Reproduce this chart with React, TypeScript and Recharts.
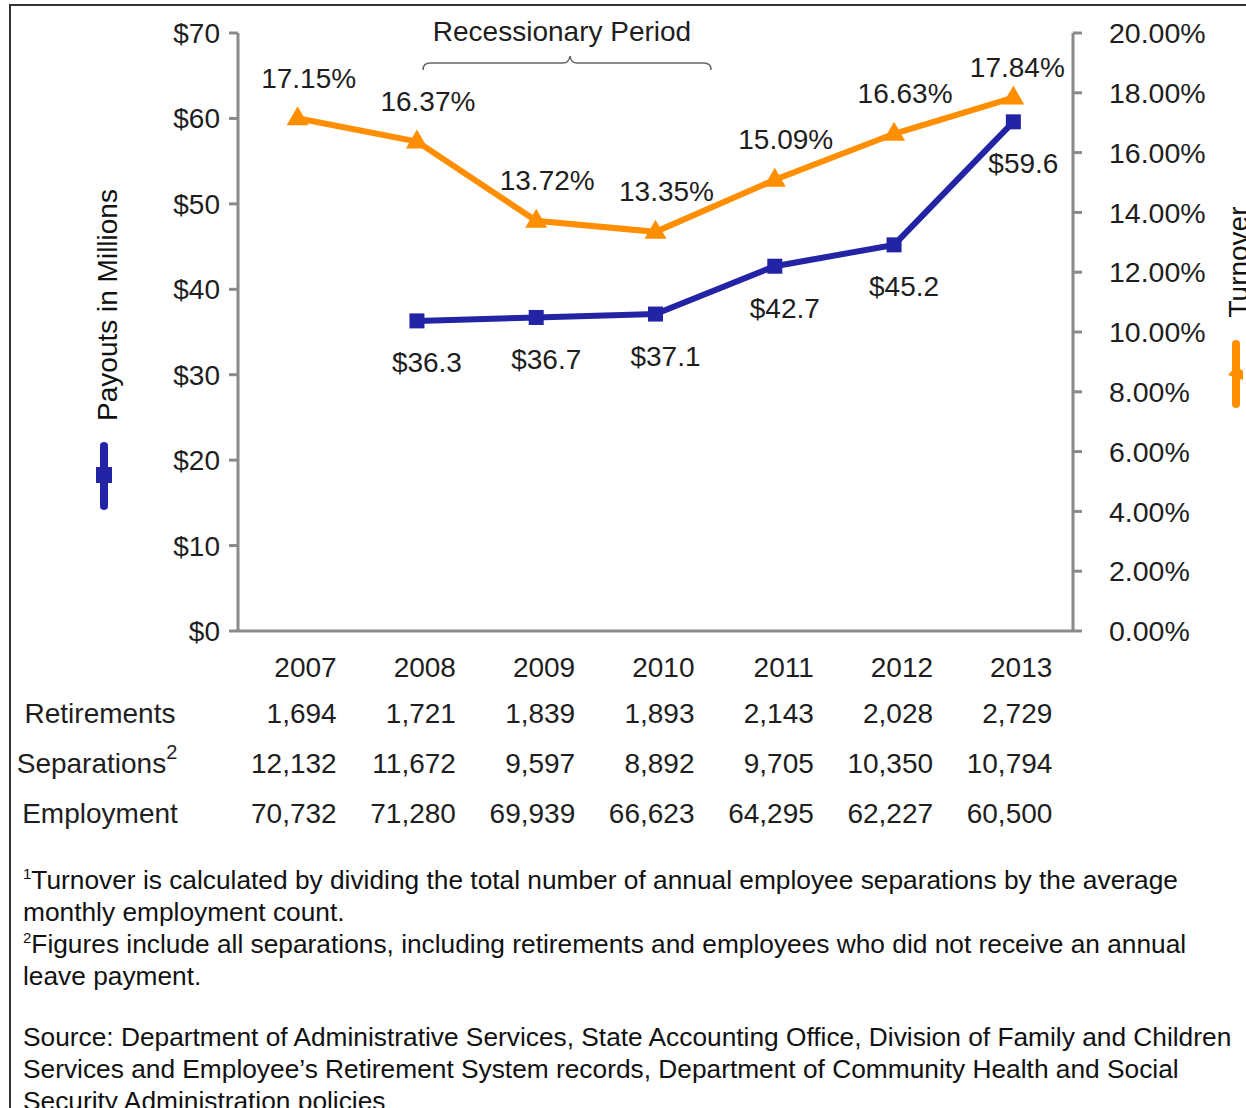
import { LineChart, Line, XAxis, YAxis, LabelList } from 'recharts';

const years = ['2007', '2008', '2009', '2010', '2011', '2012', '2013'];
const payouts = [null, 36.3, 36.7, 37.1, 42.7, 45.2, 59.6];
const turnover = [17.15, 16.37, 13.72, 13.35, 15.09, 16.63, 17.84];
const retirements = [1694, 1721, 1839, 1893, 2143, 2028, 2729];
const separations = [12132, 11672, 9597, 8892, 9705, 10350, 10794];
const employment = [70732, 71280, 69939, 66623, 64295, 62227, 60500];

const payoutTicks = [0, 10, 20, 30, 40, 50, 60, 70];
const turnoverTicks = [0, 2, 4, 6, 8, 10, 12, 14, 16, 18, 20];

const ORANGE = '#FF8F00';
const BLUE = '#2323A6';
const AXIS = '#8A8A8A';
const TEXT = '#1E1E1E';
const FONT = '"Liberation Sans", Arial, sans-serif';

const data = years.map((year, i) => ({
  idx: i,
  year,
  payout: payouts[i],
  turnover: turnover[i],
}));

const boundaryTicks = [...years.map((_, i) => i - 0.5), years.length - 0.5];
const centerTicks = years.map((_, i) => i);

const fmt = (n: number) => n.toLocaleString('en-US');

const TableTick = (props: any) => {
  const { x, y, payload } = props;
  const i = payload.value;
  const rx = x + 39;
  const rows = [years[i], fmt(retirements[i]), fmt(separations[i]), fmt(employment[i])];
  const offs = [26, 72, 122, 172];
  return (
    <g>
      {rows.map((r, k) => (
        <text key={k} x={rx} y={y + offs[k]} textAnchor="end" dominantBaseline="central"
          fontSize={28} fontFamily={FONT} fill={TEXT}>{r}</text>
      ))}
    </g>
  );
};

const Triangle = (props: any) => {
  const { cx, cy, index } = props;
  if (cx == null || cy == null) return <g key={`t-${index}`} />;
  return (
    <path key={`t-${index}`} d={`M${cx},${cy - 12} L${cx - 11},${cy + 7} L${cx + 11},${cy + 7} Z`} fill={ORANGE} />
  );
};

const Square = (props: any) => {
  const { cx, cy, index } = props;
  if (cx == null || cy == null) return <g key={`s-${index}`} />;
  return <rect key={`s-${index}`} x={cx - 7.5} y={cy - 7.5} width={15} height={15} fill={BLUE} />;
};

const turnoverLabel = (p: any) => {
  const { x, y, value, index } = p;
  if (value == null) return null;
  const last = index === years.length - 1;
  return (
    <text x={x + (last ? 4 : 11)} y={y - (last ? 30 : 40)} textAnchor="middle" dominantBaseline="central"
      fontSize={28} fontFamily={FONT} fill={TEXT}>{`${value.toFixed(2)}%`}</text>
  );
};

const payoutLabel = (p: any) => {
  const { x, y, value } = p;
  if (value == null) return null;
  return (
    <text x={x + 10} y={y + 42} textAnchor="middle" dominantBaseline="central"
      fontSize={28} fontFamily={FONT} fill={TEXT}>{`$${value.toFixed(1)}`}</text>
  );
};

const Sup = ({ n }: { n: string }) => (
  <span style={{ fontSize: 15, verticalAlign: 'top', lineHeight: '20px' }}>{n}</span>
);

export default function App() {
  return (
    <div style={{ position: 'absolute', left: 0, top: 0, width: 1246, height: 1108, overflow: 'hidden', background: '#fff', fontFamily: FONT }}>
      <LineChart width={1246} height={841} data={data} margin={{ top: 33, right: 0, left: 0, bottom: 0 }}>
        <XAxis dataKey="idx" type="number" domain={[-0.5, 6.5]} ticks={boundaryTicks} tick={false}
          height={10} stroke={AXIS} strokeWidth={3} tickSize={9} />
        <XAxis xAxisId="table" dataKey="idx" type="number" domain={[-0.5, 6.5]} ticks={centerTicks}
          height={200} axisLine={false} tickLine={false} tickSize={0} tickMargin={0} tick={<TableTick />} />
        <YAxis yAxisId="left" domain={[0, 70]} ticks={payoutTicks} width={238} stroke={AXIS} strokeWidth={3}
          tickSize={9} tickMargin={9} tickFormatter={(v) => `$${v}`}
          tick={{ fontSize: 28, fontFamily: FONT, fill: TEXT }} />
        <YAxis yAxisId="right" orientation="right" domain={[0, 20]} ticks={turnoverTicks} width={173}
          stroke={AXIS} strokeWidth={3} tickSize={9} tickMargin={27}
          tickFormatter={(v) => `${v.toFixed(2)}%`}
          tick={{ fontSize: 28.5, fontFamily: FONT, fill: TEXT, textAnchor: 'start' }} />
        <Line yAxisId="right" dataKey="turnover" stroke={ORANGE} strokeWidth={6} dot={Triangle}
          activeDot={false} isAnimationActive={false}>
          <LabelList dataKey="turnover" content={turnoverLabel} />
        </Line>
        <Line yAxisId="left" dataKey="payout" stroke={BLUE} strokeWidth={6} dot={Square}
          activeDot={false} isAnimationActive={false}>
          <LabelList dataKey="payout" content={payoutLabel} />
        </Line>
      </LineChart>

      <svg width={1246} height={1108} style={{ position: 'absolute', left: 0, top: 0, pointerEvents: 'none' }}>
        <rect x={10} y={5} width={1400} height={1400} fill="none" stroke="#333" strokeWidth={2} />
        <text x={562} y={31} textAnchor="middle" dominantBaseline="central" fontSize={28} fontFamily={FONT} fill={TEXT}>
          Recessionary Period
        </text>
        <path d="M423,70 Q423,63 430,63 L563,63 Q569,63 570,56 Q571,63 577,63 L704,63 Q711,63 711,70"
          fill="none" stroke="#666" strokeWidth={1.5} />
        <text transform="translate(107,305) rotate(-90)" textAnchor="middle" dominantBaseline="central"
          fontSize={28} fontFamily={FONT} fill="#111">Payouts in Millions</text>
        <line x1={104} y1={446} x2={104} y2={506} stroke={BLUE} strokeWidth={8} strokeLinecap="round" />
        <rect x={96} y={467} width={16} height={16} fill={BLUE} />
        <text transform="translate(1238,262) rotate(-90)" textAnchor="middle" dominantBaseline="central"
          fontSize={28} fontFamily={FONT} fill="#111">Turnover</text>
        <line x1={1236} y1={344} x2={1236} y2={404} stroke={ORANGE} strokeWidth={8} strokeLinecap="round" />
        <path d="M1228,375 L1236,366 L1243,371 L1243,380 Z" fill={ORANGE} />
        {['Retirements', 'Separations', 'Employment'].map((t, k) => (
          <text key={t} x={k === 1 ? 97 : 100} y={713 + k * 50} textAnchor="middle" dominantBaseline="central"
            fontSize={28} fontFamily={FONT} fill={TEXT}>
            {t}
            {k === 1 && <tspan fontSize={20} dy={-11}>2</tspan>}
          </text>
        ))}
      </svg>

      <div style={{ position: 'absolute', left: 23, top: 864, fontSize: 26.3, lineHeight: '32px', color: '#111',
        fontFamily: FONT, whiteSpace: 'nowrap' }}>
        <div><Sup n="1" />Turnover is calculated by dividing the total number of annual employee separations by the average</div>
        <div>monthly employment count.</div>
        <div><Sup n="2" />Figures include all separations, including retirements and employees who did not receive an annual</div>
        <div>leave payment.</div>
        <div style={{ height: 29 }} />
        <div>Source: Department of Administrative Services, State Accounting Office, Division of Family and Children</div>
        <div>Services and Employee’s Retirement System records, Department of Community Health and Social</div>
        <div>Security Administration policies</div>
      </div>
    </div>
  );
}
